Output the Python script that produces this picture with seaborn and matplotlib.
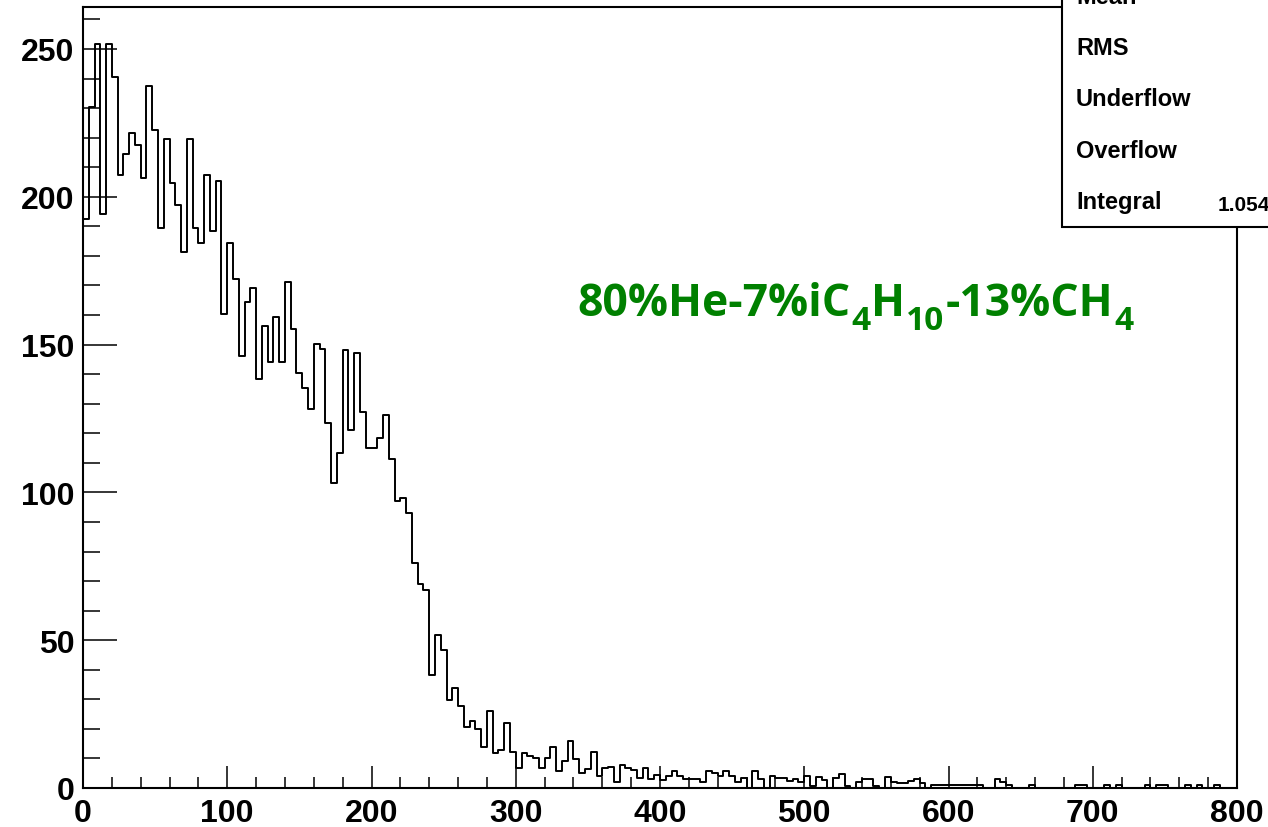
import numpy as np
import pandas as pd
import matplotlib
matplotlib.use("Agg")
import matplotlib.pyplot as plt
from matplotlib.patches import Rectangle
from matplotlib.ticker import MultipleLocator
import seaborn as sns

# ---------------- data ----------------
bin_width = 4
x_min, x_max = 0, 800
y_max = 264.2

counts = [
    192.5, 230.4, 251.7, 194.2, 251.7, 240.6, 207.5, 214.5, 221.5, 217.6,
    206.4, 237.6, 222.5, 189.3, 219.6, 204.5, 197.3, 181.2, 219.6, 189.3,
    184.2, 207.5, 188.4, 205.4, 160.4, 184.3, 172.3, 146.3, 164.5, 169.2,
    138.2, 156.3, 144.1, 159.2, 144.1, 171.2, 155.3, 140.3, 135.2, 128.2,
    150.2, 148.5, 123.4, 103.1, 113.2, 148.3, 121.1, 147.2, 127.3, 115.1,
    115.1, 118.3, 126.3, 111.2, 97.0, 98.2, 93.0, 76.1, 69.0, 67.1,
    38.2, 51.9, 46.8, 29.9, 33.8, 27.9, 20.7, 22.8, 20.0, 13.8,
    25.9, 11.8, 13.0, 22.0, 12.1, 6.9, 11.8, 10.9, 10.0, 6.9,
    10.0, 14.0, 5.9, 9.0, 15.8, 9.8, 5.1, 6.4, 12.1, 3.9,
    6.6, 7.0, 2.1, 7.9, 6.6, 6.2, 3.4, 6.7, 3.0, 4.5,
    2.8, 3.9, 5.9, 3.9, 3.0, 3.0, 3.0, 2.1, 5.9, 5.1,
    3.9, 5.9, 3.9, 2.1, 3.4, 0.0, 5.9, 3.0, 0.0, 3.9,
    3.4, 3.4, 2.5, 3.0, 1.9, 4.2, 0.6, 3.6, 2.8, 0.0,
    3.4, 4.7, 0.6, 0.0, 1.9, 3.0, 3.0, 0.6, 0.0, 3.8,
    2.1, 1.7, 1.7, 2.5, 3.0, 1.7, 0.0, 1.0, 1.0, 1.0,
    1.0, 1.0, 1.0, 1.0, 1.0, 1.0, 0.0, 0.0, 3.0, 2.1,
    1.0, 0.0, 0.0, 0.0, 1.0, 0.0, 0.0, 0.0, 0.0, 0.0,
    0.0, 0.0, 1.0, 1.0, 0.0, 0.0, 0.0, 1.0, 0.0, 1.0,
    0.0, 0.0, 0.0, 0.0, 1.0, 0.0, 1.0, 1.0, 0.0, 0.0,
    0.0, 1.0, 0.0, 1.0, 0.0, 0.0, 1.0, 0.0, 0.0, 0.0,
]

x_ticks = [0, 100, 200, 300, 400, 500, 600, 700, 800]
y_ticks = [0, 50, 100, 150, 200, 250]
stats_labels = ["Mean", "RMS", "Underflow", "Overflow", "Integral"]
integral_value = "1.054"
# annotation "80%He-7%iC4H10-13%CH4": (text, is_subscript)
annotation_parts = [("80%He-7%iC", False), ("4", True), ("H", False),
                    ("10", True), ("-13%CH", False), ("4", True)]

# ---------------- style ----------------
sns.set_style("white")
plt.rcParams["font.family"] = ["Liberation Sans", "DejaVu Sans"]
plt.rcParams["font.weight"] = "bold"
for key in ["text.color", "xtick.color", "ytick.color", "axes.labelcolor",
            "axes.edgecolor"]:
    plt.rcParams[key] = "black"

W, H = 1268, 828
centers = x_min + bin_width * (np.arange(len(counts)) + 0.5)
df = pd.DataFrame({"x": centers, "w": counts})

fig = plt.figure(figsize=(W / 100, H / 100), dpi=100)
fig.patch.set_facecolor("white")
ax = fig.add_axes([83 / W, 39 / H, 1154 / W, 781 / H])
ax.set_facecolor("white")

sns.histplot(data=df, x="x", weights="w", binwidth=bin_width,
             binrange=(x_min, x_max), element="step",
             fill=False, color="black", linewidth=1.4, ax=ax)

ax.set_xlim(x_min, x_max)
ax.set_ylim(0, y_max)
ax.set_xlabel("")
ax.set_ylabel("")
ax.set_xticks(x_ticks)
ax.set_yticks(y_ticks)
ax.xaxis.set_minor_locator(MultipleLocator(20))
ax.yaxis.set_minor_locator(MultipleLocator(10))

ax.tick_params(axis="x", which="major", direction="in", length=15.8, width=1.1,
               pad=7, labelsize=23, color="black", labelcolor="black",
               bottom=True, top=False)
ax.tick_params(axis="x", which="minor", direction="in", length=7.9, width=1.1,
               color="black", bottom=True, top=False)
ax.tick_params(axis="y", which="major", direction="in", length=24.5, width=1.1,
               pad=6, labelsize=23, color="black", labelcolor="black",
               left=True, right=False)
ax.tick_params(axis="y", which="minor", direction="in", length=12.2, width=1.1,
               color="black", left=True, right=False)
for lbl in ax.get_xticklabels() + ax.get_yticklabels():
    lbl.set_fontweight("bold")

for side in ["left", "bottom", "top", "right"]:
    ax.spines[side].set_visible(True)
    ax.spines[side].set_color("black")
    ax.spines[side].set_linewidth(1.5)

# ---------------- stats box ----------------
box = Rectangle((1062 / W, (H - 228) / H), (W - 1062 + 10) / W, 0.5,
                transform=fig.transFigure, facecolor="white", edgecolor="black",
                linewidth=1.5, zorder=10)
fig.add_artist(box)
baselines = [4, 55, 106, 158, 209]
for lab, yb in zip(stats_labels, baselines):
    fig.text(1076 / W, (H - yb) / H, lab, ha="left", va="baseline",
             fontsize=17, fontweight="bold", color="black", zorder=11)
fig.text(1218 / W, (H - 211) / H, integral_value, ha="left", va="baseline",
         fontsize=15, fontweight="bold", color="black", zorder=11)

# ---------------- annotation ----------------
renderer = fig.canvas.get_renderer()
x_px = 577
base_px = 316
for txt, is_sub in annotation_parts:
    y_px = base_px + (14 if is_sub else 0)
    t = fig.text(x_px / W, (H - y_px) / H, txt, ha="left", va="baseline",
                 fontsize=24 if is_sub else 32, fontweight="bold",
                 color="#008000", family=["Open Sans", "DejaVu Sans"])
    x_px += t.get_window_extent(renderer).width + 1

fig.savefig("out.png", dpi=100)
